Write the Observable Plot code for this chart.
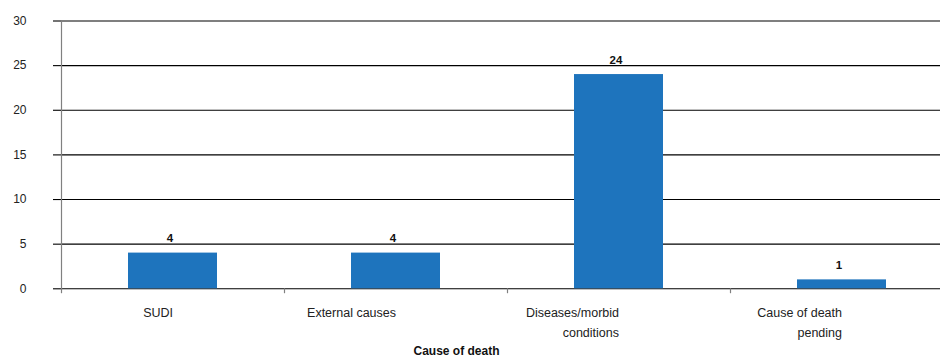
<!DOCTYPE html>
<html>
<head>
<meta charset="utf-8">
<script src="https://cdn.jsdelivr.net/npm/d3@7"></script>
<script src="https://cdn.jsdelivr.net/npm/@observablehq/plot@0.6"></script>
<style>
  html, body { margin: 0; padding: 0; background: #fff; }
  #chart { width: 940px; height: 358px; }
</style>
</head>
<body>
<div id="chart"></div>
<script>
const categories = ["SUDI", "External causes", "Diseases/morbid conditions", "Cause of death pending"];
const tickLabels = ["SUDI", "External causes", "Diseases/morbid\nconditions", "Cause of death\npending"];
const values = [4, 4, 24, 1];
const yTicks = [0, 5, 10, 15, 20, 25, 30];
const xTitle = "Cause of death";

const data = categories.map((c, i) => ({category: c, label: tickLabels[i], value: values[i]}));

const chart = Plot.plot({
  width: 940,
  height: 358,
  marginLeft: 61,
  marginRight: 0,
  marginTop: 20.5,
  marginBottom: 69.7,
  style: {fontFamily: "'Liberation Sans', Arial, sans-serif", background: "#fff", color: "#000", overflow: "visible"},
  x: {domain: categories, range: [61, 953], paddingInner: 0.6, paddingOuter: 0.3, axis: null},
  y: {domain: [0, 30], axis: null},
  marks: [
    Plot.gridY(yTicks, {stroke: "#000", strokeOpacity: 1, strokeWidth: 1.1}),
    Plot.axisY(yTicks, {tickSize: 8, stroke: "#000", strokeWidth: 1.1, tickPadding: 27, fontSize: 12, fill: "#222", label: null}),
    Plot.barY(data, {x: "category", y: "value", fill: "#1e74bd"}),
    Plot.frame({anchor: "left", stroke: "#808080", strokeWidth: 1.2}),
    Plot.ruleX(data, {x: "category", dx: -111.5, y1: 0, y2: -0.55, stroke: "#808080", strokeWidth: 1.2}),
    Plot.text(data, {x: "category", y: "value", text: d => String(d.value), lineAnchor: "bottom", dy: -11, dx: -3, fontWeight: "bold", fontSize: 11.5, fill: "#111"}),
    Plot.text(data, {x: "category", frameAnchor: "bottom", text: "label", textAnchor: "end", lineAnchor: "top", dy: 14.4, lineHeight: 1.6, fontSize: 12.5, fill: "#222"}),
    Plot.text([xTitle], {frameAnchor: "bottom", text: d => d, lineAnchor: "top", dy: 58, dx: -44.5, fontWeight: "bold", fontSize: 12, fill: "#111"})
  ]
});
document.getElementById("chart").appendChild(chart);
</script>
</body>
</html>
